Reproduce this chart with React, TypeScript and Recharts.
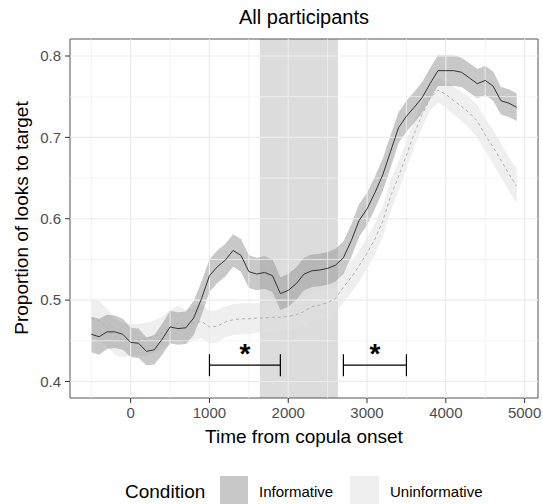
import React from 'react';
import { ComposedChart, Area, Line, XAxis, YAxis, ReferenceLine, ReferenceArea, ReferenceDot } from 'recharts';

// time from copula onset (ms)
const times = [
  -500, -400, -300, -200, -100, 0, 100, 200, 300, 400,
  500, 600, 700, 800, 900, 1000, 1100, 1200, 1300, 1400,
  1500, 1600, 1700, 1800, 1900, 2000, 2100, 2200, 2300, 2400,
  2500, 2600, 2700, 2800, 2900, 3000, 3100, 3200, 3300, 3400,
  3500, 3600, 3700, 3800, 3900, 4000, 4100, 4200, 4300, 4400,
  4500, 4600, 4700, 4800, 4900,
];

const informativeMean = [
  0.458, 0.455, 0.461, 0.461, 0.458, 0.448, 0.447, 0.437, 0.439, 0.452,
  0.467, 0.465, 0.466, 0.478, 0.502, 0.530, 0.541, 0.549, 0.561, 0.555,
  0.535, 0.532, 0.534, 0.530, 0.508, 0.512, 0.520, 0.532, 0.536, 0.537,
  0.539, 0.543, 0.552, 0.573, 0.598, 0.612, 0.632, 0.654, 0.683, 0.712,
  0.726, 0.737, 0.749, 0.766, 0.782, 0.782, 0.782, 0.780, 0.773, 0.766,
  0.770, 0.763, 0.745, 0.742, 0.737,
];

const informativeSe = [
  0.022, 0.022, 0.021, 0.020, 0.019, 0.018, 0.018, 0.017, 0.018, 0.019,
  0.020, 0.020, 0.020, 0.021, 0.021, 0.020, 0.020, 0.020, 0.020, 0.020,
  0.020, 0.020, 0.020, 0.020, 0.020, 0.020, 0.020, 0.020, 0.020, 0.020,
  0.020, 0.020, 0.020, 0.020, 0.020, 0.020, 0.020, 0.020, 0.020, 0.019,
  0.019, 0.019, 0.019, 0.019, 0.019, 0.019, 0.019, 0.018, 0.018, 0.018,
  0.018, 0.018, 0.017, 0.017, 0.017,
];

const uninformativeMean = [
  0.477, 0.475, 0.466, 0.455, 0.451, 0.451, 0.451, 0.452, 0.455, 0.460,
  0.467, 0.472, 0.467, 0.472, 0.474, 0.467, 0.468, 0.473, 0.476, 0.477,
  0.477, 0.478, 0.478, 0.479, 0.479, 0.480, 0.482, 0.486, 0.492, 0.494,
  0.497, 0.502, 0.516, 0.528, 0.542, 0.558, 0.575, 0.597, 0.628, 0.652,
  0.678, 0.705, 0.728, 0.748, 0.758, 0.753, 0.745, 0.738, 0.730, 0.720,
  0.703, 0.688, 0.672, 0.655, 0.640,
];

const uninformativeSe = [
  0.024, 0.024, 0.023, 0.022, 0.021, 0.020, 0.020, 0.020, 0.020, 0.020,
  0.021, 0.021, 0.021, 0.021, 0.021, 0.020, 0.020, 0.019, 0.019, 0.019,
  0.019, 0.018, 0.018, 0.018, 0.018, 0.018, 0.018, 0.018, 0.018, 0.018,
  0.018, 0.018, 0.019, 0.019, 0.019, 0.019, 0.019, 0.019, 0.019, 0.018,
  0.017, 0.016, 0.016, 0.015, 0.015, 0.016, 0.017, 0.018, 0.019, 0.020,
  0.020, 0.021, 0.021, 0.021, 0.021,
];

const xTicks = [0, 1000, 2000, 3000, 4000, 5000];
const xMinor = [-500, 500, 1500, 2500, 3500, 4500];
const yTicks = [0.4, 0.5, 0.6, 0.7, 0.8];
const yMinor = [0.45, 0.55, 0.65, 0.75];

// grey window
const windowStart = 1640;
const windowEnd = 2630;

// significance brackets
const sigStart = [1000, 2700];
const sigEnd = [1900, 3500];
const sigY = 0.42;
const sigCap = 0.0135;
const starY = 0.437;

const X_DOMAIN = [-770, 5170];
const Y_DOMAIN = [0.3797, 0.8209];

const FONT = '"Liberation Sans", Arial, sans-serif';

const data = times.map((t, i) => ({
  t,
  inf: informativeMean[i],
  infBand: [informativeMean[i] - informativeSe[i], informativeMean[i] + informativeSe[i]],
  un: uninformativeMean[i],
  unBand: [uninformativeMean[i] - uninformativeSe[i], uninformativeMean[i] + uninformativeSe[i]],
}));

const Star = (props: any) => (
  <text x={props.cx} y={props.cy + 12} textAnchor="middle" fontSize={28} fontWeight="bold" fontFamily={FONT} fill="#000">
    *
  </text>
);

const App: React.FC = () => {
  return (
    <div style={{ position: 'absolute', left: 0, top: 0, width: 543, height: 504, overflow: 'hidden', background: '#fff', fontFamily: FONT }}>
      <div style={{ position: 'absolute', left: 0, width: 608, top: 6, textAlign: 'center', fontSize: 20, color: '#000' }}>
        All participants
      </div>

      <ComposedChart width={543} height={504} data={data} margin={{ top: 39, right: 5, bottom: 76, left: 0 }}>
        {xMinor.map(v => (
          <ReferenceLine key={'xm' + v} x={v} stroke="#f0f0f0" strokeWidth={0.8} />
        ))}
        {yMinor.map(v => (
          <ReferenceLine key={'ym' + v} y={v} stroke="#f0f0f0" strokeWidth={0.8} />
        ))}
        {xTicks.map(v => (
          <ReferenceLine key={'xg' + v} x={v} stroke="#ebebeb" strokeWidth={1.2} />
        ))}
        {yTicks.map(v => (
          <ReferenceLine key={'yg' + v} y={v} stroke="#ebebeb" strokeWidth={1.2} />
        ))}

        <ReferenceArea x1={windowStart} x2={windowEnd} y1={Y_DOMAIN[0]} y2={Y_DOMAIN[1]} fill="#a0a0a0" fillOpacity={0.37} stroke="none" ifOverflow="visible" />

        <XAxis
          dataKey="t"
          type="number"
          domain={X_DOMAIN}
          ticks={xTicks}
          allowDataOverflow
          axisLine={false}
          tickLine={{ stroke: '#333', strokeWidth: 1 }}
          tickSize={5}
          tickMargin={4}
          height={30}
          tick={{ fill: '#4d4d4d', fontSize: 15, fontFamily: FONT }}
        />
        <YAxis
          type="number"
          domain={Y_DOMAIN}
          ticks={yTicks}
          allowDataOverflow
          axisLine={false}
          tickLine={{ stroke: '#333', strokeWidth: 1 }}
          tickSize={5}
          tickMargin={4}
          width={70}
          tickFormatter={(v: number) => v.toFixed(1)}
          tick={{ fill: '#4d4d4d', fontSize: 15, fontFamily: FONT }}
        />

        <Area type="linear" dataKey="unBand" stroke="none" fill="#dfdfdf" fillOpacity={0.5} isAnimationActive={false} />
        <Area type="linear" dataKey="infBand" stroke="none" fill="#919191" fillOpacity={0.5} isAnimationActive={false} />
        <Line type="linear" dataKey="un" stroke="#b0b0b0" strokeWidth={1} strokeDasharray="3 3" dot={false} isAnimationActive={false} />
        <Line type="linear" dataKey="inf" stroke="#333" strokeWidth={1} dot={false} isAnimationActive={false} />

        {sigStart.map((s, i) => (
          <ReferenceLine key={'sb' + i} segment={[{ x: s, y: sigY }, { x: sigEnd[i], y: sigY }]} stroke="#000" strokeWidth={1.2} />
        ))}
        {sigStart.map((s, i) => (
          <ReferenceLine key={'sl' + i} segment={[{ x: s, y: sigY - sigCap }, { x: s, y: sigY + sigCap }]} stroke="#000" strokeWidth={1.2} />
        ))}
        {sigEnd.map((e, i) => (
          <ReferenceLine key={'sr' + i} segment={[{ x: e, y: sigY - sigCap }, { x: e, y: sigY + sigCap }]} stroke="#000" strokeWidth={1.2} />
        ))}
        {sigStart.map((s, i) => (
          <ReferenceDot key={'st' + i} x={(s + sigEnd[i]) / 2} y={starY} r={0} shape={Star} />
        ))}

        <ReferenceArea x1={X_DOMAIN[0]} x2={X_DOMAIN[1]} y1={Y_DOMAIN[0]} y2={Y_DOMAIN[1]} fill="none" stroke="#555" strokeWidth={1} ifOverflow="visible" />
      </ComposedChart>

      <div style={{ position: 'absolute', left: 70, width: 468, top: 426, textAlign: 'center', fontSize: 19, color: '#000' }}>
        Time from copula onset
      </div>
      <div
        style={{
          position: 'absolute', left: 22, top: 218, width: 300, marginLeft: -150, marginTop: -11,
          textAlign: 'center', fontSize: 19, color: '#000', transform: 'rotate(-90deg)', lineHeight: '22px',
        }}
      >
        Proportion of looks to target
      </div>

      <div style={{ position: 'absolute', left: 125, top: 481, fontSize: 19, color: '#000', lineHeight: '22px' }}>Condition</div>
      <div style={{ position: 'absolute', left: 220, top: 476, width: 28, height: 34, background: '#c8c8c8' }} />
      <div style={{ position: 'absolute', left: 259, top: 483, fontSize: 15, color: '#000', lineHeight: '18px' }}>Informative</div>
      <div style={{ position: 'absolute', left: 350, top: 476, width: 29, height: 34, background: '#efefef' }} />
      <div style={{ position: 'absolute', left: 390, top: 483, fontSize: 15, color: '#000', lineHeight: '18px' }}>Uninformative</div>
    </div>
  );
};

export default App;
